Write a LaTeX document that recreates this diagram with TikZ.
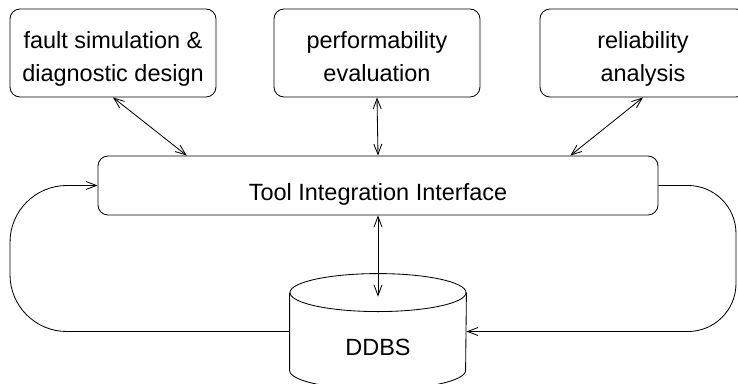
\documentclass[tikz,border=0pt]{standalone}
\usepackage{fontspec}
\setmainfont{Liberation Sans}
\usepackage{tikz}
\usetikzlibrary{arrows.meta, calc}

\begin{document}
\begin{tikzpicture}[
  font=\fontsize{16.7pt}{23.5pt}\selectfont,
  line width=0.6pt,
  toolbox/.style={draw, rounded corners=0.25cm, minimum width=5.15cm,
                  inner xsep=0pt, inner ysep=0pt, align=center,
                  text height=1.825cm, text depth=0.375cm},
  iface/.style={draw, rounded corners=0.25cm, minimum width=14cm,
                inner ysep=0pt, text height=1.1cm, text depth=0.375cm},
  dbbody/.style={minimum width=4.4cm, inner ysep=0pt,
                 text height=1.55cm, text depth=0.375cm},
  ar/.style={-{Straight Barb[length=2.6mm, width=2mm]}},
  dar/.style={{Straight Barb[length=2.6mm, width=2mm]}-{Straight Barb[length=2.6mm, width=2mm]}}
]
\useasboundingbox (0,0) rectangle (18.45,9.575);

% ================= tools =================
\node[toolbox] (fsim) at (2.825, 8.25)  {fault simulation \&\\ diagnostic design};
\node[toolbox] (perf) at (9.425, 8.25)  {performability\\ evaluation};
\node[toolbox] (rel)  at (16.075, 8.25) {reliability\\ analysis};

% ================= interface =================
\node[iface] (tii) at (9.45, 4.9375) {Tool Integration Interface};

% ================= database =================
\node[dbbody] (db) at (9.45, 1.2875) {DDBS};
\draw (db.north) ellipse [x radius=2.2cm, y radius=0.475cm];
\draw (db.north west) -- (db.south west)
      arc [start angle=180, end angle=360, x radius=2.2cm, y radius=0.475cm]
      -- (db.north east);

% ================= connectors =================
\draw[dar] (fsim.south) -- ($(tii.north west)!0.159!(tii.north east)$);
\draw[dar] (perf.south) -- (tii.north);
\draw[dar] (rel.south)  -- ($(tii.north west)!0.843!(tii.north east)$);
\draw[dar] (tii.south)  -- ($(db.north)+(0,-0.1)$);

% loops round the side
\draw[ar, rounded corners=1.42cm] (db.west) -- (0.25, 0 |- db.west)
  -- (0.25, 0 |- tii.west) -- (tii.west);
\draw[ar, rounded corners=1.2cm] (tii.east) -- (18.4, 0 |- tii.east)
  -- (18.4, 0 |- db.east) -- (db.east);

\end{tikzpicture}
\end{document}
